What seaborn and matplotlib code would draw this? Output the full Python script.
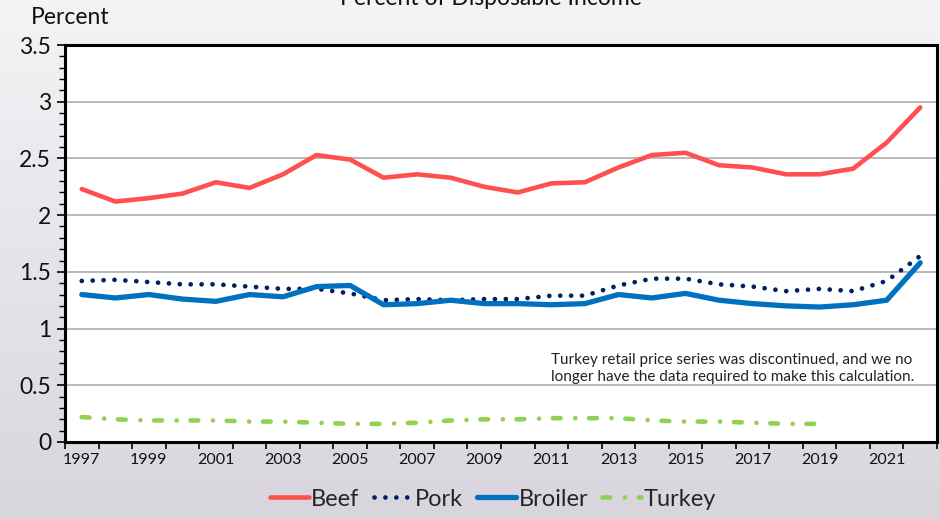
import numpy as np
import pandas as pd
import matplotlib.pyplot as plt
import matplotlib.colors as mcolors
import seaborn as sns

# Data (percent of disposable income)
years = list(range(1997, 2023))
beef = [2.23, 2.12, 2.15, 2.19, 2.29, 2.24, 2.36, 2.53, 2.49, 2.33, 2.36, 2.33, 2.25,
        2.20, 2.28, 2.29, 2.42, 2.53, 2.55, 2.44, 2.42, 2.36, 2.36, 2.41, 2.64, 2.95]
pork = [1.42, 1.43, 1.41, 1.39, 1.39, 1.37, 1.35, 1.35, 1.31, 1.25, 1.26, 1.25, 1.26,
        1.26, 1.29, 1.29, 1.38, 1.44, 1.44, 1.39, 1.37, 1.33, 1.35, 1.33, 1.42, 1.64]
broiler = [1.30, 1.27, 1.30, 1.26, 1.24, 1.30, 1.28, 1.37, 1.38, 1.21, 1.22, 1.25, 1.22,
           1.22, 1.21, 1.22, 1.30, 1.27, 1.31, 1.25, 1.22, 1.20, 1.19, 1.21, 1.25, 1.58]
turkey_years = list(range(1997, 2020))
turkey = [0.22, 0.20, 0.19, 0.19, 0.19, 0.18, 0.18, 0.17, 0.16, 0.16, 0.17, 0.19, 0.20,
          0.20, 0.21, 0.21, 0.21, 0.19, 0.18, 0.18, 0.17, 0.16, 0.16]
note = ("Turkey retail price series was discontinued, and we no\n"
        "longer have the data required to make this calculation.")

sns.set_theme(style="white")
plt.rcParams['font.family'] = ['Lato', 'DejaVu Sans']

fig = plt.figure(figsize=(9.4, 5.19), dpi=100)

# soft gradient background like the slide
bg = fig.add_axes([0, 0, 1, 1], zorder=-10)
cmap = mcolors.LinearSegmentedColormap.from_list("bg", ["#f4f3f5", "#d9d5dd"])
bg.imshow(np.linspace(0, 1, 256).reshape(-1, 1), aspect='auto', cmap=cmap,
          extent=[0, 1, 0, 1])
bg.axis('off')
fig.patch.set_facecolor("#ebe9ed")

ax = fig.add_axes([65/940, 1 - 442/519, 872/940, 397/519])
ax.set_facecolor("white")

df = pd.DataFrame({"year": years, "Beef": beef, "Pork": pork, "Broiler": broiler})
tdf = pd.DataFrame({"year": turkey_years, "Turkey": turkey})

sns.lineplot(data=df, x="year", y="Beef", ax=ax, color="#FF5050", lw=3.3,
             label="Beef", solid_capstyle="round")
sns.lineplot(data=df, x="year", y="Pork", ax=ax, color="#002060", lw=3.4,
             linestyle=(0, (0.01, 2.3)), dash_capstyle="round", label="Pork")
sns.lineplot(data=df, x="year", y="Broiler", ax=ax, color="#0070C0", lw=3.8,
             label="Broiler", solid_capstyle="round")
sns.lineplot(data=tdf, x="year", y="Turkey", ax=ax, color="#92D050", lw=3.3,
             linestyle=(0, (1.7, 3.2, 0.01, 3.0)), dash_capstyle="round", label="Turkey")

ax.set_xlim(1996.5, 2022.5)
ax.set_ylim(0, 3.5)
ax.set_xlabel("")
ax.set_ylabel("")

# y axis
ax.set_yticks(np.arange(0, 3.51, 0.5))
ax.set_yticklabels(["0", "0.5", "1", "1.5", "2", "2.5", "3", "3.5"], fontsize=16.5,
                   color="#111111")
ax.set_yticks(np.arange(0, 3.51, 0.1), minor=True)
ax.yaxis.grid(True, which='major', color="#a6a6a6", lw=1.1)
ax.tick_params(axis='y', which='major', left=True, length=6, width=1.2, color='black', pad=4)
ax.tick_params(axis='y', which='minor', left=True, length=4, width=1.0, color='black')

# x axis: ticks between categories, labels on odd years
ax.set_xticks(np.arange(1996.5, 2023, 1.0))
ax.set_xticklabels([])
ax.set_xticks(list(range(1997, 2022, 2)), minor=True)
ax.set_xticklabels([str(y) for y in range(1997, 2022, 2)], minor=True, fontsize=11.5,
                   color="#111111")
ax.tick_params(axis='x', which='major', bottom=True, length=5, width=1.2, color='black')
ax.tick_params(axis='x', which='minor', bottom=False, length=0, pad=8)

for s in ax.spines.values():
    s.set_color("black")
    s.set_linewidth(2.2)

ax.text(0.557, 0.186, note, transform=ax.transAxes, fontsize=11, color="#222222",
        va='center', ha='left', linespacing=1.3)

ax.get_legend().remove()
handles, labels = ax.get_legend_handles_labels()
fig.legend(handles, labels, loc='center', bbox_to_anchor=(493/940, 1 - 499/519),
           ncol=4, frameon=False, fontsize=17, handlelength=1.65, handletextpad=0.1,
           columnspacing=0.6)

fig.text(31/940, 1 - 17/519, "Percent", fontsize=16.5, va='center', ha='left', color="#111111")
fig.text(491/940, 1 - 5/519, "Percent of Disposable Income", fontsize=16.5,
         va='baseline', ha='center', color="#111111")

fig.savefig("out.png", dpi=100)
